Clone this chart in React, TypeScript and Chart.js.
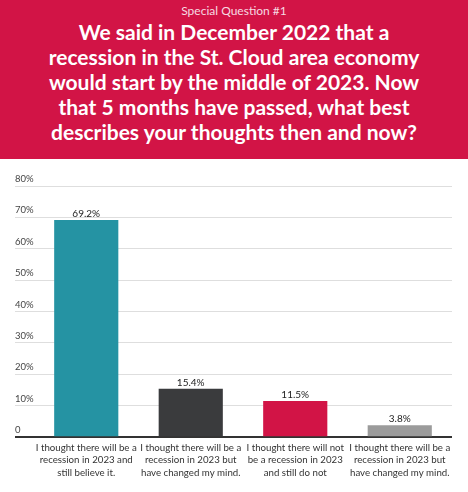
import { useEffect, useRef } from 'react';
import { Chart, registerables } from 'chart.js';

Chart.register(...registerables);

document.body.style.margin = '0';

const subtitle = 'Special Question #1';
const titleLines = [
  'We said in December 2022 that a',
  'recession in the St. Cloud area economy',
  'would start by the middle of 2023. Now',
  'that 5 months have passed, what best',
  'describes your thoughts then and now?',
];

const categories: string[][] = [
  ['I thought there will be a', 'recession in 2023 and', 'still believe it.'],
  ['I thought there will be a', 'recession in 2023 but', 'have changed my mind.'],
  ['I thought there will not', 'be a recession in 2023', 'and still do not'],
  ['I thought there will be a', 'recession in 2023 but', 'have changed my mind.'],
];
const shares = [69.2, 15.4, 11.5, 3.8];
const barColors = ['#2593a3', '#3a3b3d', '#d21446', '#9b9b9b'];
const yTicks = [0, 10, 20, 30, 40, 50, 60, 70, 80];

const FONT = 'Lato, "Open Sans", sans-serif';

// value labels above each bar
const valueLabels = {
  id: 'valueLabels',
  afterDatasetsDraw(chart: Chart) {
    const { ctx } = chart;
    const meta = chart.getDatasetMeta(0);
    ctx.save();
    ctx.font = `10px ${FONT}`;
    ctx.fillStyle = '#222';
    ctx.textAlign = 'center';
    ctx.textBaseline = 'bottom';
    meta.data.forEach((bar, i) => {
      ctx.fillText(shares[i].toFixed(1) + '%', bar.x, bar.y - 1);
    });
    ctx.restore();
  },
};

export default function App() {
  const canvasRef = useRef<HTMLCanvasElement>(null);

  useEffect(() => {
    if (!canvasRef.current) return;
    const chart = new Chart(canvasRef.current, {
      type: 'bar',
      data: {
        labels: categories,
        datasets: [
          {
            data: shares,
            backgroundColor: barColors,
            categoryPercentage: 1,
            barPercentage: 0.614,
          },
        ],
      },
      options: {
        animation: false,
        responsive: true,
        maintainAspectRatio: false,
        layout: { padding: { left: 15, right: 16, top: 27, bottom: 9 } },
        plugins: { legend: { display: false }, tooltip: { enabled: false } },
        scales: {
          x: {
            grid: { display: false, drawTicks: false },
            border: { display: false },
            ticks: {
              color: '#333',
              font: { family: FONT, size: 9.7, lineHeight: 1.3 },
              padding: 4,
              maxRotation: 0,
              autoSkip: false,
            },
          },
          y: {
            min: 0,
            max: 80,
            afterBuildTicks: (scale) => {
              scale.ticks = yTicks.map((v) => ({ value: v }));
            },
            afterFit: (scale) => {
              scale.width = 19;
            },
            border: { display: false },
            grid: {
              color: (c) => (c.tick?.value === 0 ? '#333' : '#dedede'),
              lineWidth: (c) => (c.tick?.value === 0 ? 2 : 1),
              tickColor: (c) => (c.tick?.value === 0 ? '#333' : '#dedede'),
              tickWidth: (c) => (c.tick?.value === 0 ? 2 : 1),
              tickLength: 19,
            },
            ticks: {
              crossAlign: 'far',
              labelOffset: -7,
              color: '#444',
              font: { family: FONT, size: 9.5 },
              callback: (v) => (Number(v) === 0 ? '0' : v + '%'),
            },
          },
        },
      },
      plugins: [valueLabels],
    });
    return () => chart.destroy();
  }, []);

  return (
    <div style={{ width: 468 }}>
      <div
        style={{
          background: '#d21446',
          color: '#fff',
          height: 159,
          boxSizing: 'border-box',
          paddingTop: 3,
          textAlign: 'center',
          fontFamily: FONT,
        }}
      >
        <div style={{ fontSize: 12, lineHeight: '16px', color: '#f6dbe2' }}>{subtitle}</div>
        <div style={{ fontSize: 21, fontWeight: 700, lineHeight: '25px', whiteSpace: 'nowrap' }}>
          {titleLines.map((line, i) => (
            <div key={i}>{line}</div>
          ))}
        </div>
      </div>
      <div style={{ position: 'relative', height: 333 }}>
        <canvas ref={canvasRef} />
      </div>
    </div>
  );
}
